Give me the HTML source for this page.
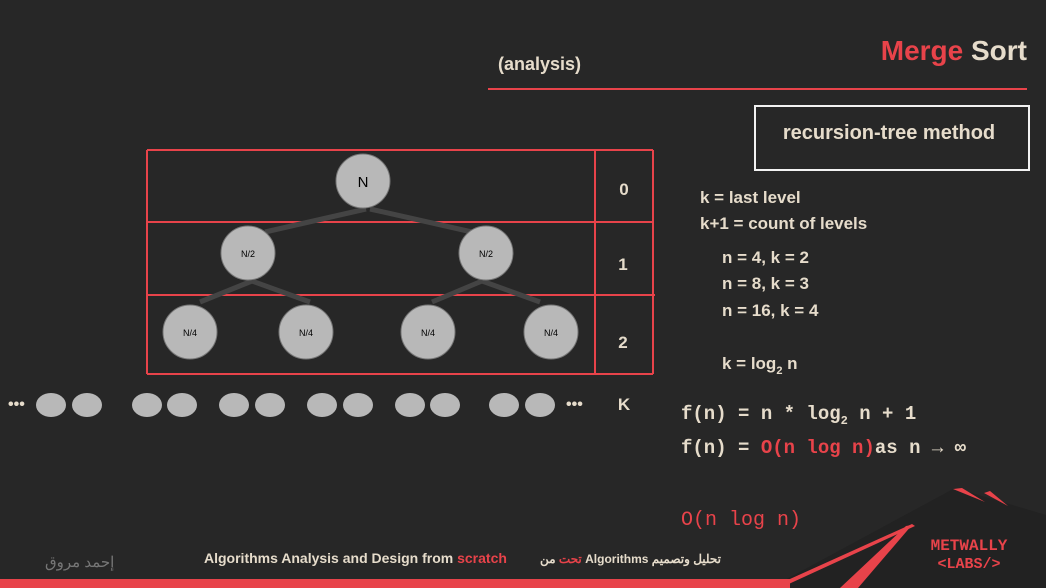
<!DOCTYPE html>
<html><head><meta charset="utf-8"><style>
body{margin:0;background:#272727;width:1046px;height:588px;overflow:hidden}
svg{display:block}
.c{font-family:"Liberation Sans","Noto Sans CJK SC",sans-serif;font-weight:bold;fill:#e6dccb}
.m{font-family:"Liberation Mono",monospace;font-weight:bold;fill:#e6dccb}
</style></head><body>
<svg width="1046" height="588">
<rect width="1046" height="588" fill="#272727"/>
<text x="498" y="70" class="c" font-size="18">(analysis)</text>
<text x="1027" y="60" text-anchor="end" class="c" font-size="28"><tspan fill="#e8434a">Merge</tspan> Sort</text>
<line x1="488" y1="89" x2="1027" y2="89" stroke="#e8434a" stroke-width="2"/>
<rect x="755" y="106" width="274" height="64" fill="none" stroke="#f2f2f2" stroke-width="2"/>
<text x="889" y="139" text-anchor="middle" class="c" font-size="20">recursion-tree method</text>
<g stroke="#e8434a" stroke-width="2" fill="none">
<line x1="147" y1="150" x2="653" y2="150"/><line x1="147" y1="222" x2="653" y2="222"/>
<line x1="147" y1="295" x2="655" y2="295"/><line x1="147" y1="374" x2="653" y2="374"/>
<line x1="147" y1="150" x2="147" y2="374"/><line x1="595" y1="150" x2="595" y2="374"/><line x1="653" y1="150" x2="653" y2="374"/>
</g>
<g stroke="#444" stroke-width="5" fill="none">
<line x1="366" y1="209" x2="265" y2="232"/><line x1="370" y1="209" x2="472" y2="232"/>
<line x1="252" y1="281" x2="200" y2="302"/><line x1="252" y1="281" x2="310" y2="302"/>
<line x1="482" y1="281" x2="432" y2="302"/><line x1="482" y1="281" x2="540" y2="302"/>
</g>
<g font-family="Liberation Sans,sans-serif" text-anchor="middle">
<circle cx="363" cy="181" r="27" fill="#b8b8b8" stroke="#777"/><text x="363" y="187" font-size="15">N</text>
<circle cx="248" cy="253" r="27" fill="#b8b8b8" stroke="#777"/><text x="248" y="257" font-size="9">N/2</text>
<circle cx="486" cy="253" r="27" fill="#b8b8b8" stroke="#777"/><text x="486" y="257" font-size="9">N/2</text>
<circle cx="190" cy="332" r="27" fill="#b8b8b8" stroke="#777"/><text x="190" y="336" font-size="9">N/4</text>
<circle cx="306" cy="332" r="27" fill="#b8b8b8" stroke="#777"/><text x="306" y="336" font-size="9">N/4</text>
<circle cx="428" cy="332" r="27" fill="#b8b8b8" stroke="#777"/><text x="428" y="336" font-size="9">N/4</text>
<circle cx="551" cy="332" r="27" fill="#b8b8b8" stroke="#777"/><text x="551" y="336" font-size="9">N/4</text>
</g>
<g class="c" font-size="17" text-anchor="middle">
<text x="624" y="195">0</text><text x="623" y="270">1</text><text x="623" y="348">2</text><text x="624" y="410">K</text>
</g>
<g fill="#b8b8b8">
<ellipse cx="51" cy="405" rx="15" ry="12"/><ellipse cx="87" cy="405" rx="15" ry="12"/>
<ellipse cx="147" cy="405" rx="15" ry="12"/><ellipse cx="182" cy="405" rx="15" ry="12"/>
<ellipse cx="234" cy="405" rx="15" ry="12"/><ellipse cx="270" cy="405" rx="15" ry="12"/>
<ellipse cx="322" cy="405" rx="15" ry="12"/><ellipse cx="358" cy="405" rx="15" ry="12"/>
<ellipse cx="410" cy="405" rx="15" ry="12"/><ellipse cx="445" cy="405" rx="15" ry="12"/>
<ellipse cx="504" cy="405" rx="15" ry="12"/><ellipse cx="540" cy="405" rx="15" ry="12"/>
</g>
<text x="8" y="409" class="c" font-size="16">•••</text>
<text x="566" y="409" class="c" font-size="16">•••</text>
<g class="c" font-size="17">
<text x="700" y="203">k = last level</text>
<text x="700" y="229">k+1 = count of levels</text>
<text x="722" y="263">n = 4, k = 2</text>
<text x="722" y="289">n = 8, k = 3</text>
<text x="722" y="316">n = 16, k = 4</text>
<text x="722" y="369">k = log<tspan font-size="11" dy="5">2</tspan><tspan dy="-5"> n</tspan></text>
</g>
<g class="m" font-size="19">
<text x="681" y="419">f(n) = n * log<tspan font-size="12" dy="5">2</tspan><tspan dy="-5"> n + 1</tspan></text>
<text x="681" y="453">f(n) = <tspan fill="#e8434a">O(n log n)</tspan>as n → ∞</text>
</g>
<text x="681" y="525" font-family="Liberation Mono,monospace" font-size="20" fill="#e8434a">O(n log n)</text>
<text x="45" y="567" font-family="Liberation Sans,'Noto Sans CJK SC',sans-serif" font-size="15" fill="#777">إحمد مروق</text>
<text x="204" y="563" class="c" font-size="14">Algorithms Analysis and Design from <tspan fill="#e8434a">scratch</tspan></text>
<text x="540" y="563" class="c" font-size="12"><tspan fill="#e8434a">تحت</tspan> من Algorithms تحليل وتصميم</text>
<g>
<polygon points="770,588 955,488 1046,515 1046,588" fill="#222"/>
<rect x="0" y="579" width="790" height="9" fill="#e8434a"/>
<polygon points="770,588 780,588 915,526 912,524" fill="#e8434a"/>
<polygon points="840,588 858,588 912,525 906,526" fill="#e8434a"/>
<polygon points="953,489 962,488 985,502" fill="#e8434a"/>
<polygon points="984,493 990,491 1008,506" fill="#e8434a"/>
</g>
<text x="969" y="550" text-anchor="middle" font-family="Liberation Mono,monospace" font-weight="bold" font-size="16" fill="#e8434a">METWALLY</text>
<text x="969" y="568" text-anchor="middle" font-family="Liberation Mono,monospace" font-weight="bold" font-size="15" fill="#e8434a">&lt;LABS/&gt;</text>
</svg>
</body></html>
